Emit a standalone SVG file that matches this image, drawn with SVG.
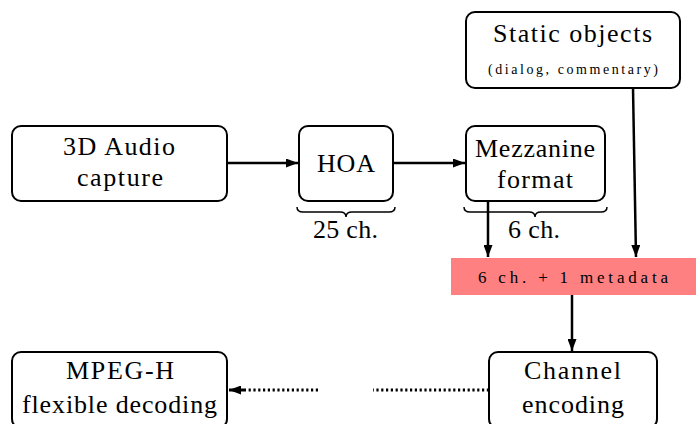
<svg xmlns="http://www.w3.org/2000/svg" width="700" height="424" viewBox="0 0 700 424" font-family="'Liberation Serif', 'Noto Serif', 'DejaVu Serif', 'Times New Roman', serif">
<style>
.box{fill:#fff;stroke:#000;stroke-width:2}
.t{font-size:26px;fill:#000;text-anchor:middle}
.s{font-size:14px;fill:#000;text-anchor:middle}
.m{font-size:17px;fill:#000;text-anchor:middle}
.a{fill:none;stroke:#000;stroke-width:2.5;marker-end:url(#ah)}
.d{fill:none;stroke:#000;stroke-width:3;stroke-dasharray:2.2 2.6}
.br{fill:none;stroke:#000;stroke-width:1.5}
</style>
<defs>
<marker id="ah" viewBox="0 0 12 9" refX="12" refY="4.5" markerWidth="12" markerHeight="9" markerUnits="userSpaceOnUse" orient="auto">
<path d="M0,0 L12,4.5 L0,9 z" fill="#000"/>
</marker>
</defs>
<rect width="700" height="424" fill="#fff"/>
<g id="connectors">
<line class="a" x1="227" y1="163" x2="298" y2="163"/>
<line class="a" x1="393" y1="163" x2="465" y2="163"/>
<line class="a" x1="488" y1="201" x2="488" y2="257"/>
<line class="a" x1="633" y1="88" x2="636" y2="257"/>
<line class="a" x1="572" y1="295" x2="572" y2="351"/>
<line class="d" x1="489" y1="390" x2="373" y2="390"/>
<line class="d" x1="318" y1="390" x2="244" y2="390"/>
<line class="a" x1="244" y1="390" x2="229" y2="390" style="stroke-width:3"/>
</g>
<g id="capture">
<rect class="box" x="12" y="126" width="215" height="75" rx="9"/>
<text class="t" x="119" y="155" textLength="112">3D Audio</text>
<text class="t" x="120" y="186" textLength="86">capture</text>
</g>
<g id="hoa">
<rect class="box" x="299" y="126" width="94" height="75" rx="9"/>
<text class="t" x="346" y="172" textLength="58">HOA</text>
<path class="br" d="M297,207 q0,5 6,5 h37 q6,0 6,5 q0,-5 6,-5 h37 q6,0 6,-5"/>
<text class="t" x="345.5" y="238" textLength="65">25 ch.</text>
</g>
<g id="mezzanine">
<rect class="box" x="466" y="126" width="139" height="75" rx="9"/>
<text class="t" x="535" y="157" textLength="120">Mezzanine</text>
<text class="t" x="535" y="188" textLength="76">format</text>
<path class="br" d="M464,207 q0,5 6,5 h59 q6,0 6,5 q0,-5 6,-5 h60 q6,0 6,-5"/>
<text class="t" x="534" y="238" textLength="52">6 ch.</text>
</g>
<g id="static">
<rect class="box" x="466" y="12" width="214" height="76" rx="9"/>
<text class="t" x="572.5" y="42" textLength="159">Static objects</text>
<text class="s" x="573" y="74" textLength="170">(dialog, commentary)</text>
</g>
<g id="metadata">
<rect x="451" y="258" width="245" height="37" fill="#ff8080"/>
<text class="m" x="573" y="283" textLength="190">6 ch. + 1 metadata</text>
</g>
<g id="encoding">
<rect class="box" x="489" y="352" width="168" height="76" rx="9"/>
<text class="t" x="572.5" y="379" textLength="97">Channel</text>
<text class="t" x="573" y="413" textLength="102">encoding</text>
</g>
<g id="decoding">
<rect class="box" x="12" y="352" width="215" height="76" rx="9"/>
<text class="t" x="120" y="379" textLength="108">MPEG-H</text>
<text class="t" x="119.5" y="413" textLength="195">flexible decoding</text>
</g>
</svg>
